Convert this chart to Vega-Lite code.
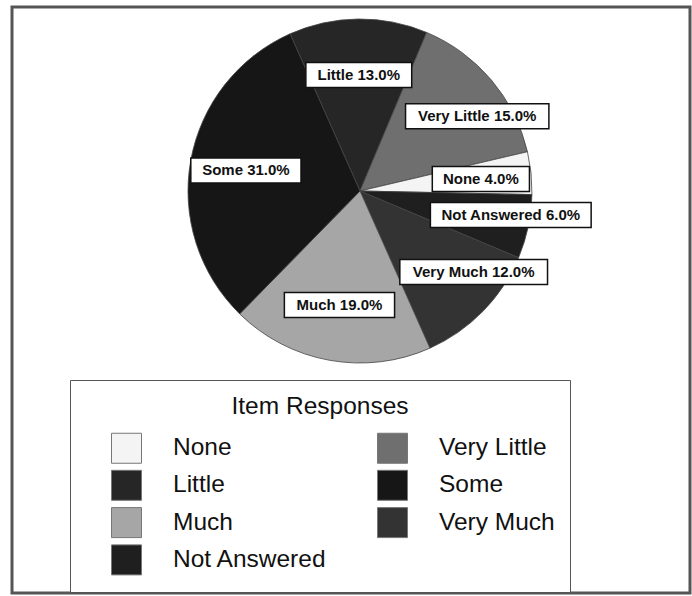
{
  "$schema": "https://vega.github.io/schema/vega-lite/v6.json",
  "width": 678,
  "height": 586,
  "padding": {"left": 12, "top": 7, "right": 2, "bottom": 3},
  "autosize": {"type": "none"},
  "background": "white",
  "config": {
    "view": {"stroke": "#555555", "strokeWidth": 3},
    "font": "Liberation Sans"
  },
  "data": {
    "values": [
      {"cat": "Little", "pct": 13, "ord": 1},
      {"cat": "Very Little", "pct": 15, "ord": 2},
      {"cat": "None", "pct": 4, "ord": 3},
      {"cat": "Not Answered", "pct": 6, "ord": 4},
      {"cat": "Very Much", "pct": 12, "ord": 5},
      {"cat": "Much", "pct": 19, "ord": 6},
      {"cat": "Some", "pct": 31, "ord": 7}
    ]
  },
  "layer": [
    {
      "mark": {"type": "arc", "radius": 172, "stroke": "#444444", "strokeWidth": 0.8},
      "encoding": {
        "x": {"datum": 0, "type": "quantitative", "scale": {"domain": [-2.02326, 1.9186], "nice": false, "zero": false}, "axis": null},
        "y": {"datum": 0, "type": "quantitative", "scale": {"domain": [-2.33721, 1.06977], "nice": false, "zero": false}, "axis": null},
        "theta": {"field": "pct", "type": "quantitative", "stack": true, "scale": {"range": [-0.4189, 5.8643]}},
        "order": {"field": "ord", "type": "quantitative", "sort": "ascending"},
        "color": {
          "field": "cat",
          "type": "nominal",
          "scale": {
            "domain": ["None", "Little", "Much", "Not Answered", "Very Little", "Some", "Very Much"],
            "range": ["#f4f4f4", "#262626", "#a6a6a6", "#1f1f1f", "#6f6f6f", "#161616", "#333333"]
          },
          "legend": {
            "orient": "none",
            "legendX": 58,
            "legendY": 373,
            "columns": 2,
            "title": "Item Responses",
            "titleFont": "Liberation Sans",
            "titleFontSize": 24.5,
            "titleFontWeight": "normal",
            "titleColor": "#111111",
            "titleAnchor": "middle",
            "titlePadding": 13,
            "padding": 15,
            "strokeColor": "#555555",
            "fillColor": "white",
            "symbolType": "square",
            "symbolSize": 900,
            "symbolOffset": 26,
            "labelOffset": 31,
            "labelFont": "Liberation Sans",
            "labelFontSize": 24.5,
            "labelColor": "#111111",
            "labelLimit": 300,
            "rowPadding": 2.3,
            "columnPadding": 24,
            "gridAlign": "all",
            "symbolStrokeColor": "#777777",
            "symbolStrokeWidth": 1
          }
        }
      }
    },
    {
      "transform": [
        {"stack": "pct", "groupby": [], "sort": [{"field": "ord", "order": "ascending"}], "as": ["s0", "s1"]},
        {"calculate": "-24*PI/180 + (datum.s0 + datum.s1)/100*PI", "as": "mid"},
        {"calculate": "datum.cat + ' ' + format(datum.pct, '.1f') + '%'", "as": "lbl"},
        {"calculate": "0.58*length(datum.lbl) - 0.29*length(replace(datum.lbl, regexp('[^iltfj. ]', 'g'), '')) - 0.19*length(replace(datum.lbl, regexp('[^r]', 'g'), '')) + 0.29*length(replace(datum.lbl, regexp('[^%mMwW]', 'g'), '')) + 0.08*length(replace(datum.lbl, regexp('[^A-Z]', 'g'), ''))", "as": "em"},
        {"calculate": "15*datum.em + 22", "as": "wpx"},
        {"calculate": "0.674*sin(datum.mid)", "as": "ax"},
        {"calculate": "0.674*cos(datum.mid)", "as": "ay"},
        {"calculate": "sin(datum.mid) > 0.05 ? datum.ax - 43/172 : datum.ax - datum.wpx/344", "as": "bx0"},
        {"calculate": "datum.bx0 + datum.wpx/172", "as": "bx1"},
        {"calculate": "(datum.bx0 + datum.bx1)/2", "as": "tx"},
        {"calculate": "datum.ay - 12.5/172", "as": "by0"},
        {"calculate": "datum.ay + 12.5/172", "as": "by1"}
      ],
      "layer": [
        {
          "mark": {"type": "rect", "fill": "white", "stroke": "#111111", "strokeWidth": 1.5},
          "encoding": {
            "x": {"field": "bx0", "type": "quantitative", "scale": {"domain": [-2.02326, 1.9186], "nice": false, "zero": false}, "axis": null},
            "x2": {"field": "bx1"},
            "y": {"field": "by0", "type": "quantitative", "scale": {"domain": [-2.33721, 1.06977], "nice": false, "zero": false}, "axis": null},
            "y2": {"field": "by1"}
          }
        },
        {
          "mark": {"type": "text", "font": "Liberation Sans", "fontWeight": "bold", "fontSize": 15, "align": "center", "baseline": "middle", "color": "#111111"},
          "encoding": {
            "x": {"field": "tx", "type": "quantitative", "scale": {"domain": [-2.02326, 1.9186], "nice": false, "zero": false}, "axis": null},
            "y": {"field": "ay", "type": "quantitative", "scale": {"domain": [-2.33721, 1.06977], "nice": false, "zero": false}, "axis": null},
            "text": {"field": "lbl", "type": "nominal"}
          }
        }
      ]
    }
  ]
}
